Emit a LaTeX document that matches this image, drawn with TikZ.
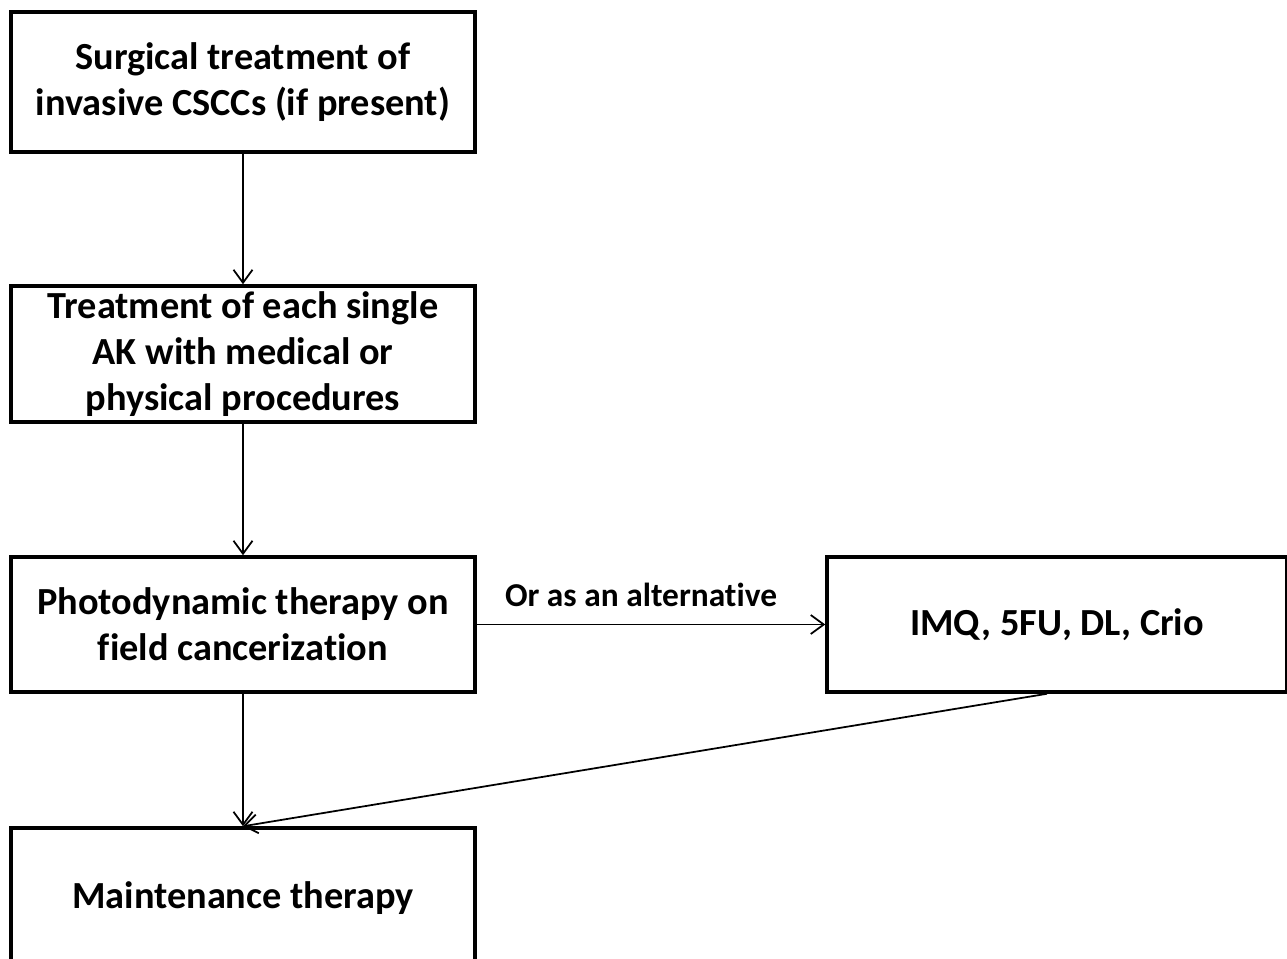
\documentclass[tikz,border=0pt]{standalone}
\usepackage{fontspec}
\setmainfont{Carlito}[Ligatures=NoCommon]
\usepackage{tikz}
\usetikzlibrary{arrows.meta}

\begin{document}
\begin{tikzpicture}[
    box/.style={draw, line width=2pt, minimum width=9.28cm, align=center,
      font=\bfseries\fontsize{21.8}{26}\selectfont, inner sep=0pt},
    link/.style={line width=1pt, -{Straight Barb[length=2.6mm, width=3.8mm]}}
  ]
        \clip (0,0) rectangle (25.74,-19.16);

        \node [box, minimum height=2.8cm] (surgery) at (4.86,-1.64)
          {Surgical treatment of\\invasive CSCCs (if present)};
        \node [box, minimum height=2.72cm] (single) at (4.86,-7.08)
          {Treatment of each single\\AK with medical or\\physical procedures};
        \node [box, minimum height=2.7cm] (pdt) at (4.86,-12.49)
          {Photodynamic therapy on\\field cancerization};
        \node [box, minimum height=2.7cm, minimum width=9.2cm] (alt) at (21.14,-12.49)
          {IMQ, 5FU, DL, Crio};
        \node [box, minimum height=2.8cm] (maint) at (4.86,-17.96)
          {Maintenance therapy};

        \draw [link] (surgery) -- (single);
        \draw [link] (single) -- (pdt);
        \draw [link] (pdt) -- node [above=0.22cm, xshift=-0.2cm, font=\bfseries\fontsize{19}{22}\selectfont]
          {Or as an alternative} (alt);
        \draw [link] (pdt) -- (maint);
        \draw [link] ([xshift=-0.2cm]alt.south) -- (maint.north); % from the right-hand box
\end{tikzpicture}
\end{document}
